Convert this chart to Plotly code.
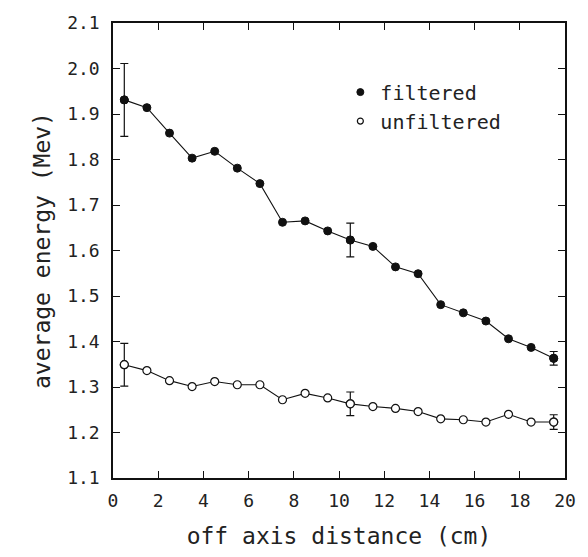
import plotly.graph_objects as go

distance = [0.5, 1.5, 2.5, 3.5, 4.5, 5.5, 6.5, 7.5, 8.5, 9.5,
            10.5, 11.5, 12.5, 13.5, 14.5, 15.5, 16.5, 17.5, 18.5, 19.5]
filtered = [1.931, 1.914, 1.858, 1.803, 1.818, 1.781, 1.747, 1.662, 1.665, 1.643,
            1.623, 1.609, 1.564, 1.549, 1.481, 1.463, 1.445, 1.406, 1.387, 1.363]
unfiltered = [1.349, 1.336, 1.314, 1.301, 1.312, 1.305, 1.305, 1.272, 1.286, 1.276,
              1.263, 1.257, 1.253, 1.246, 1.230, 1.228, 1.223, 1.240, 1.223, 1.223]

err_idx = [0, 10, 19]
filtered_err = [0.080, 0.037, 0.015]
unfiltered_err = [0.047, 0.026, 0.016]

x_ticks = [0, 2, 4, 6, 8, 10, 12, 14, 16, 18, 20]
y_ticks = [1.1, 1.2, 1.3, 1.4, 1.5, 1.6, 1.7, 1.8, 1.9, 2.0, 2.1]

FONT = "DejaVu Sans Mono"
INK = "#111111"

fig = go.Figure()

# lines with markers
fig.add_trace(go.Scatter(
    x=distance, y=filtered, mode="lines+markers", showlegend=False,
    line=dict(color=INK, width=1.1),
    marker=dict(symbol="circle", size=8, color=INK, line=dict(color=INK, width=1)),
))
fig.add_trace(go.Scatter(
    x=distance, y=unfiltered, mode="lines+markers", showlegend=False,
    line=dict(color=INK, width=1.1),
    marker=dict(symbol="circle", size=8, color="white", line=dict(color=INK, width=1.2)),
))

# error bars at selected points
fig.add_trace(go.Scatter(
    x=[distance[i] for i in err_idx], y=[filtered[i] for i in err_idx],
    mode="markers", showlegend=False,
    marker=dict(symbol="circle", size=8, color=INK, line=dict(color=INK, width=1)),
    error_y=dict(type="data", array=filtered_err, color=INK, thickness=1.2, width=4),
))
fig.add_trace(go.Scatter(
    x=[distance[i] for i in err_idx], y=[unfiltered[i] for i in err_idx],
    mode="markers", showlegend=False,
    marker=dict(symbol="circle", size=8, color="white", line=dict(color=INK, width=1.2)),
    error_y=dict(type="data", array=unfiltered_err, color=INK, thickness=1.2, width=4),
))

# legend entries (markers only)
fig.add_trace(go.Scatter(
    x=[None], y=[None], mode="markers", name="filtered",
    marker=dict(symbol="circle", size=7, color=INK, line=dict(color=INK, width=1)),
))
fig.add_trace(go.Scatter(
    x=[None], y=[None], mode="markers", name="unfiltered",
    marker=dict(symbol="circle", size=6, color="white", line=dict(color=INK, width=1.2)),
))

axis_common = dict(
    showline=True, linecolor=INK, linewidth=1.5, mirror="allticks",
    ticks="inside", ticklen=7, tickwidth=1.2, tickcolor=INK,
    showgrid=False, zeroline=False,
    tickfont=dict(family=FONT, size=18, color="#222222"),
)

fig.update_layout(
    width=588, height=557,
    margin=dict(l=113, r=14, t=20, b=79),
    paper_bgcolor="white", plot_bgcolor="white",
    font=dict(family=FONT, color=INK),
    xaxis=dict(
        range=[0, 20], tickvals=x_ticks, ticktext=[str(v) for v in x_ticks],
        ticklabelstandoff=6,
        title=dict(text="off axis distance (cm)", font=dict(family=FONT, size=23, color="#222222"), standoff=18),
        **axis_common,
    ),
    yaxis=dict(
        range=[1.1, 2.1], tickvals=y_ticks, ticktext=[f"{v:.1f}" for v in y_ticks],
        ticklabelstandoff=8,
        title=dict(text="average energy (Mev)", font=dict(family=FONT, size=23, color="#222222"), standoff=10),
        **axis_common,
    ),
    legend=dict(
        x=0.503, y=0.891, xanchor="left", yanchor="top",
        bgcolor="rgba(0,0,0,0)", borderwidth=0,
        font=dict(family=FONT, size=20, color="#222222"),
        tracegroupgap=0, itemsizing="trace",
    ),
)

fig.write_html("out.html")
